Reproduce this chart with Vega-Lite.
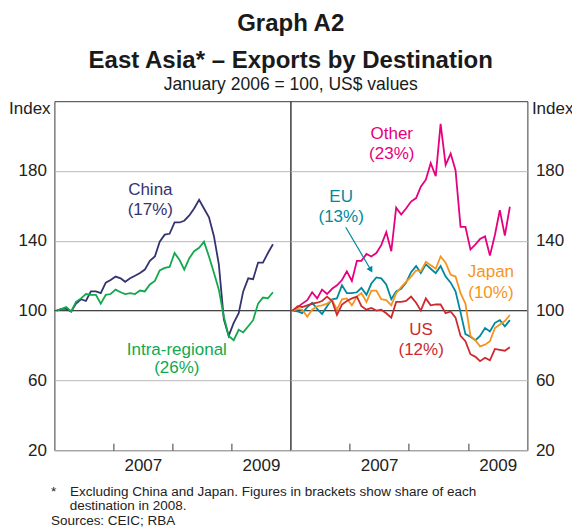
{
  "$schema": "https://vega.github.io/schema/vega-lite/v6.json",
  "padding": {"left": 7.4, "top": 11.2, "right": 0, "bottom": 0},
  "background": "white",
  "title": {
    "text": ["Graph A2", "East Asia* – Exports by Destination"],
    "subtitle": "January 2006 = 100, US$ values",
    "fontSize": 24,
    "fontWeight": "bold",
    "lineHeight": 37.6,
    "subtitleFontSize": 17.5,
    "subtitlePadding": 3,
    "offset": 5.4,
    "anchor": "middle",
    "color": "#1a1a1a",
    "subtitleColor": "#1a1a1a",
    "font": "Liberation Sans",
    "subtitleFont": "Liberation Sans"
  },
  "bounds": "flush",
  "spacing": 0,
  "datasets": {
    "m": [
      {"d": "2006-01-15", "China": 100, "Intra-regional": 100, "Other": 100, "EU": 100, "Japan": 100, "US": 100},
      {"d": "2006-02-15", "China": 101, "Intra-regional": 101, "Other": 102, "EU": 99.5, "Japan": 101, "US": 102.5},
      {"d": "2006-03-15", "China": 101, "Intra-regional": 102, "Other": 104, "EU": 98.5, "Japan": 100.5, "US": 102},
      {"d": "2006-04-15", "China": 99.5, "Intra-regional": 99.5, "Other": 106, "EU": 102, "Japan": 96.5, "US": 103},
      {"d": "2006-05-15", "China": 104, "Intra-regional": 105, "Other": 110.5, "EU": 104.5, "Japan": 100.5, "US": 104},
      {"d": "2006-06-15", "China": 106.5, "Intra-regional": 107, "Other": 107, "EU": 101, "Japan": 102.5, "US": 104.5},
      {"d": "2006-07-15", "China": 105.5, "Intra-regional": 109.5, "Other": 112, "EU": 98, "Japan": 103, "US": 105.5},
      {"d": "2006-08-15", "China": 111, "Intra-regional": 109, "Other": 109.5, "EU": 102.5, "Japan": 104, "US": 108},
      {"d": "2006-09-15", "China": 111, "Intra-regional": 109, "Other": 112.5, "EU": 106.5, "Japan": 106, "US": 105.5},
      {"d": "2006-10-15", "China": 110, "Intra-regional": 104, "Other": 114.5, "EU": 107, "Japan": 100.5, "US": 97.5},
      {"d": "2006-11-15", "China": 116, "Intra-regional": 109, "Other": 117.5, "EU": 114.5, "Japan": 106.5, "US": 103.5},
      {"d": "2006-12-15", "China": 117.5, "Intra-regional": 109.5, "Other": 122.5, "EU": 110, "Japan": 107, "US": 105.5},
      {"d": "2007-01-15", "China": 119.5, "Intra-regional": 112, "Other": 117, "EU": 110, "Japan": 103, "US": 107},
      {"d": "2007-02-15", "China": 118.5, "Intra-regional": 110.5, "Other": 128.5, "EU": 110.5, "Japan": 108, "US": 108},
      {"d": "2007-03-15", "China": 116.5, "Intra-regional": 109.5, "Other": 128.5, "EU": 113, "Japan": 110, "US": 102.5},
      {"d": "2007-04-15", "China": 118.5, "Intra-regional": 110, "Other": 132.5, "EU": 109, "Japan": 105, "US": 100.5},
      {"d": "2007-05-15", "China": 120, "Intra-regional": 109.5, "Other": 131, "EU": 115.5, "Japan": 111.5, "US": 101.5},
      {"d": "2007-06-15", "China": 121.5, "Intra-regional": 111.5, "Other": 133, "EU": 119, "Japan": 111.5, "US": 100},
      {"d": "2007-07-15", "China": 123.5, "Intra-regional": 111, "Other": 137.5, "EU": 118.5, "Japan": 106.5, "US": 100.5},
      {"d": "2007-08-15", "China": 128.5, "Intra-regional": 115, "Other": 145, "EU": 115, "Japan": 106, "US": 98.5},
      {"d": "2007-09-15", "China": 131, "Intra-regional": 117, "Other": 134, "EU": 106.5, "Japan": 103, "US": 96},
      {"d": "2007-10-15", "China": 139.5, "Intra-regional": 123, "Other": 159, "EU": 111, "Japan": 110, "US": 105},
      {"d": "2007-11-15", "China": 143.5, "Intra-regional": 124.5, "Other": 155, "EU": 112.5, "Japan": 113.5, "US": 105},
      {"d": "2007-12-15", "China": 144, "Intra-regional": 125, "Other": 158.5, "EU": 116, "Japan": 116.5, "US": 105.5},
      {"d": "2008-01-15", "China": 150.5, "Intra-regional": 133, "Other": 162.5, "EU": 122, "Japan": 119.5, "US": 108},
      {"d": "2008-02-15", "China": 150.5, "Intra-regional": 129, "Other": 164.5, "EU": 125.5, "Japan": 123, "US": 104.5},
      {"d": "2008-03-15", "China": 151.5, "Intra-regional": 123.5, "Other": 171, "EU": 121.5, "Japan": 122.5, "US": 100},
      {"d": "2008-04-15", "China": 154.5, "Intra-regional": 130, "Other": 175, "EU": 126.5, "Japan": 128, "US": 107},
      {"d": "2008-05-15", "China": 158.5, "Intra-regional": 134, "Other": 184.5, "EU": 124, "Japan": 126, "US": 103},
      {"d": "2008-06-15", "China": 163.5, "Intra-regional": 136, "Other": 177, "EU": 121.5, "Japan": 124, "US": 103.5},
      {"d": "2008-07-15", "China": 158.5, "Intra-regional": 139.5, "Other": 207, "EU": 125.5, "Japan": 131, "US": 103.5},
      {"d": "2008-08-15", "China": 153.5, "Intra-regional": 131, "Other": 183.5, "EU": 119.5, "Japan": 127.5, "US": 98.5},
      {"d": "2008-09-15", "China": 142.5, "Intra-regional": 121.5, "Other": 190, "EU": 116, "Japan": 120.5, "US": 99.5},
      {"d": "2008-10-15", "China": 126.5, "Intra-regional": 112, "Other": 180.5, "EU": 111, "Japan": 119.5, "US": 96},
      {"d": "2008-11-15", "China": 95, "Intra-regional": 96.5, "Other": 148, "EU": 99, "Japan": 110, "US": 85.5},
      {"d": "2008-12-15", "China": 85.5, "Intra-regional": 85.5, "Other": 148, "EU": 86.5, "Japan": 104, "US": 82.5},
      {"d": "2009-01-15", "China": 93, "Intra-regional": 83, "Other": 135, "EU": 85, "Japan": 85.5, "US": 75},
      {"d": "2009-02-15", "China": 98.5, "Intra-regional": 89, "Other": 138, "EU": 83, "Japan": 83, "US": 73.5},
      {"d": "2009-03-15", "China": 111, "Intra-regional": 87.5, "Other": 141, "EU": 85.5, "Japan": 79.5, "US": 71},
      {"d": "2009-04-15", "China": 118.5, "Intra-regional": 91, "Other": 142.5, "EU": 90, "Japan": 80.5, "US": 73},
      {"d": "2009-05-15", "China": 118, "Intra-regional": 94.5, "Other": 131.5, "EU": 88, "Japan": 82.5, "US": 71.5},
      {"d": "2009-06-15", "China": 127.5, "Intra-regional": 104, "Other": 143.5, "EU": 93, "Japan": 90, "US": 78},
      {"d": "2009-07-15", "China": 127.5, "Intra-regional": 107.5, "Other": 157.5, "EU": 94.5, "Japan": 92, "US": 77.5},
      {"d": "2009-08-15", "China": 133, "Intra-regional": 107, "Other": 143, "EU": 91, "Japan": 94, "US": 77},
      {"d": "2009-09-15", "China": 138, "Intra-regional": 110.5, "Other": 159.5, "EU": 94.5, "Japan": 97.5, "US": 79}
    ],
    "lab": [
      {"p": "L", "s": "China", "d": "2007-08-18", "v": 169.1, "t": "China"},
      {"p": "L", "s": "China", "d": "2007-08-18", "v": 157.7, "t": "(17%)"},
      {"p": "L", "s": "Intra-regional", "d": "2008-01-29", "v": 77.7, "t": "Intra-regional"},
      {"p": "L", "s": "Intra-regional", "d": "2008-01-29", "v": 66.9, "t": "(26%)"},
      {"p": "R", "s": "Other", "d": "2007-09-18", "v": 201.1, "t": "Other"},
      {"p": "R", "s": "Other", "d": "2007-09-18", "v": 189.7, "t": "(23%)"},
      {"p": "R", "s": "EU", "d": "2006-11-10", "v": 165.3, "t": "EU"},
      {"p": "R", "s": "EU", "d": "2006-11-10", "v": 153.7, "t": "(13%)"},
      {"p": "R", "s": "Japan", "d": "2009-05-21", "v": 122.3, "t": "Japan"},
      {"p": "R", "s": "Japan", "d": "2009-05-21", "v": 110.3, "t": "(10%)"},
      {"p": "R", "s": "US", "d": "2008-03-17", "v": 88.6, "t": "US"},
      {"p": "R", "s": "US", "d": "2008-03-17", "v": 77.3, "t": "(12%)"}
    ],
    "arr": [
      {"s": "EU", "d": "2006-12-08", "v": 147.8, "d2": "2007-05-12", "v2": 123.3}
    ]
  },
  "config": {
    "font": "Liberation Sans",
    "view": {"stroke": "#3a3a3a", "strokeWidth": 1},
    "axis": {
      "labelFont": "Liberation Sans",
      "titleFont": "Liberation Sans",
      "labelColor": "#222222",
      "titleColor": "#222222",
      "labelFontSize": 17,
      "titleFontSize": 17,
      "titleFontWeight": "normal",
      "gridColor": "#b8b8b8",
      "gridWidth": 1,
      "domain": false
    },
    "legend": {"disable": true},
    "text": {"font": "Liberation Sans"}
  },
  "hconcat": [
    {
      "width": 236,
      "height": 349,
      "layer": [
        {
          "data": {"values": [{}]},
          "mark": {"type": "rule", "color": "#444444", "strokeWidth": 1.2},
          "encoding": {"y": {"datum": 100, "type": "quantitative"}}
        },
        {
          "data": {"name": "m"},
          "transform": [{"fold": ["China", "Intra-regional"], "as": ["s", "v"]}],
          "mark": {"type": "line", "strokeWidth": 1.8},
          "encoding": {
            "x": {
              "field": "d", "type": "temporal",
              "scale": {"type": "utc", "domain": [{"year": 2006, "month": 1, "date": 1, "utc": true}, {"year": 2010, "month": 1, "date": 1, "utc": true}]},
              "axis": {
                "values": [{"year": 2007, "month": 1, "date": 1, "utc": true}, {"year": 2008, "month": 1, "date": 1, "utc": true}, {"year": 2009, "month": 1, "date": 1, "utc": true}],
                "labelExpr": "utcyear(datum.value) % 2 == 1 ? utcFormat(datum.value, '%Y') : ''",
                "labelOffset": 29.5,
                "labelFlush": false,
                "labelOverlap": false,
                "ticks": true,
                "tickSize": -7,
                "tickColor": "#3a3a3a",
                "labelPadding": 14,
                "grid": false,
                "title": ["*\u00a0\u00a0\u00a0\u2009Excluding China and Japan. Figures in brackets show share of each", "\u200b\u00a0\u00a0\u00a0\u00a0\u00a0destination in 2008.", "Sources: CEIC; RBA"],
                "titleFontSize": 13.5,
                "titleLineHeight": 14.7,
                "titleAlign": "left",
                "titleAnchor": "start",
                "titleBaseline": "alphabetic",
                "titleX": -4,
                "titleY": 45
              }
            },
            "y": {
              "field": "v", "type": "quantitative",
              "scale": {"domain": [20, 220], "nice": false, "zero": false},
              "axis": {
                "orient": "left",
                "values": [20, 60, 100, 140, 180],
                "grid": true,
                "ticks": false,
                "labelPadding": 8,
                "title": "Index",
                "titleAngle": 0,
                "titleAlign": "right",
                "titleBaseline": "alphabetic",
                "titleX": -4.3,
                "titleY": 12.7
              }
            },
            "color": {
              "field": "s", "type": "nominal",
              "scale": {"domain": ["China", "Intra-regional", "Other", "EU", "Japan", "US"], "range": ["#35336f", "#12a84e", "#e6007e", "#00899e", "#f7941d", "#cc2a2f"]},
              "legend": null
            }
          }
        },
        {
          "data": {"name": "lab"},
          "transform": [{"filter": "datum.p == 'L'"}],
          "mark": {"type": "text", "fontSize": 17, "baseline": "middle", "align": "center"},
          "encoding": {
            "x": {"field": "d", "type": "temporal"},
            "y": {"field": "v", "type": "quantitative"},
            "text": {"field": "t"},
            "color": {"field": "s", "type": "nominal", "legend": null}
          }
        }
      ]
    },
    {
      "width": 237,
      "height": 349,
      "layer": [
        {
          "data": {"values": [{}]},
          "mark": {"type": "rule", "color": "#444444", "strokeWidth": 1.2},
          "encoding": {"y": {"datum": 100, "type": "quantitative"}}
        },
        {
          "data": {"name": "m"},
          "transform": [{"fold": ["Other", "EU", "Japan", "US"], "as": ["s", "v"]}],
          "mark": {"type": "line", "strokeWidth": 1.8},
          "encoding": {
            "x": {
              "field": "d", "type": "temporal",
              "scale": {"type": "utc", "domain": [{"year": 2006, "month": 1, "date": 1, "utc": true}, {"year": 2010, "month": 1, "date": 1, "utc": true}]},
              "axis": {
                "values": [{"year": 2007, "month": 1, "date": 1, "utc": true}, {"year": 2008, "month": 1, "date": 1, "utc": true}, {"year": 2009, "month": 1, "date": 1, "utc": true}],
                "labelExpr": "utcyear(datum.value) % 2 == 1 ? utcFormat(datum.value, '%Y') : ''",
                "labelOffset": 29.5,
                "labelFlush": false,
                "labelOverlap": false,
                "ticks": true,
                "tickSize": -7,
                "tickColor": "#3a3a3a",
                "labelPadding": 14,
                "grid": false,
                "title": null
              }
            },
            "y": {
              "field": "v", "type": "quantitative",
              "scale": {"domain": [20, 220], "nice": false, "zero": false},
              "axis": {
                "orient": "right",
                "values": [20, 60, 100, 140, 180],
                "grid": true,
                "ticks": false,
                "labelPadding": 8,
                "title": "Index",
                "titleAngle": 0,
                "titleAlign": "left",
                "titleBaseline": "alphabetic",
                "titleX": 4,
                "titleY": 12.7
              }
            },
            "color": {
              "field": "s", "type": "nominal",
              "scale": {"domain": ["China", "Intra-regional", "Other", "EU", "Japan", "US"], "range": ["#35336f", "#12a84e", "#e6007e", "#00899e", "#f7941d", "#cc2a2f"]},
              "legend": null
            }
          }
        },
        {
          "data": {"name": "lab"},
          "transform": [{"filter": "datum.p == 'R'"}],
          "mark": {"type": "text", "fontSize": 17, "baseline": "middle", "align": "center"},
          "encoding": {
            "x": {"field": "d", "type": "temporal"},
            "y": {"field": "v", "type": "quantitative"},
            "text": {"field": "t"},
            "color": {"field": "s", "type": "nominal", "legend": null}
          }
        },
        {
          "data": {"name": "arr"},
          "mark": {"type": "rule", "strokeWidth": 1.2},
          "encoding": {
            "x": {"field": "d", "type": "temporal"},
            "y": {"field": "v", "type": "quantitative"},
            "x2": {"field": "d2"},
            "y2": {"field": "v2"},
            "color": {"field": "s", "type": "nominal", "legend": null}
          }
        },
        {
          "data": {"name": "arr"},
          "mark": {"type": "point", "shape": "triangle-up", "filled": true, "size": 45, "angle": 150, "opacity": 1},
          "encoding": {
            "x": {"field": "d2", "type": "temporal"},
            "y": {"field": "v2", "type": "quantitative"},
            "color": {"field": "s", "type": "nominal", "legend": null}
          }
        }
      ]
    }
  ]
}
